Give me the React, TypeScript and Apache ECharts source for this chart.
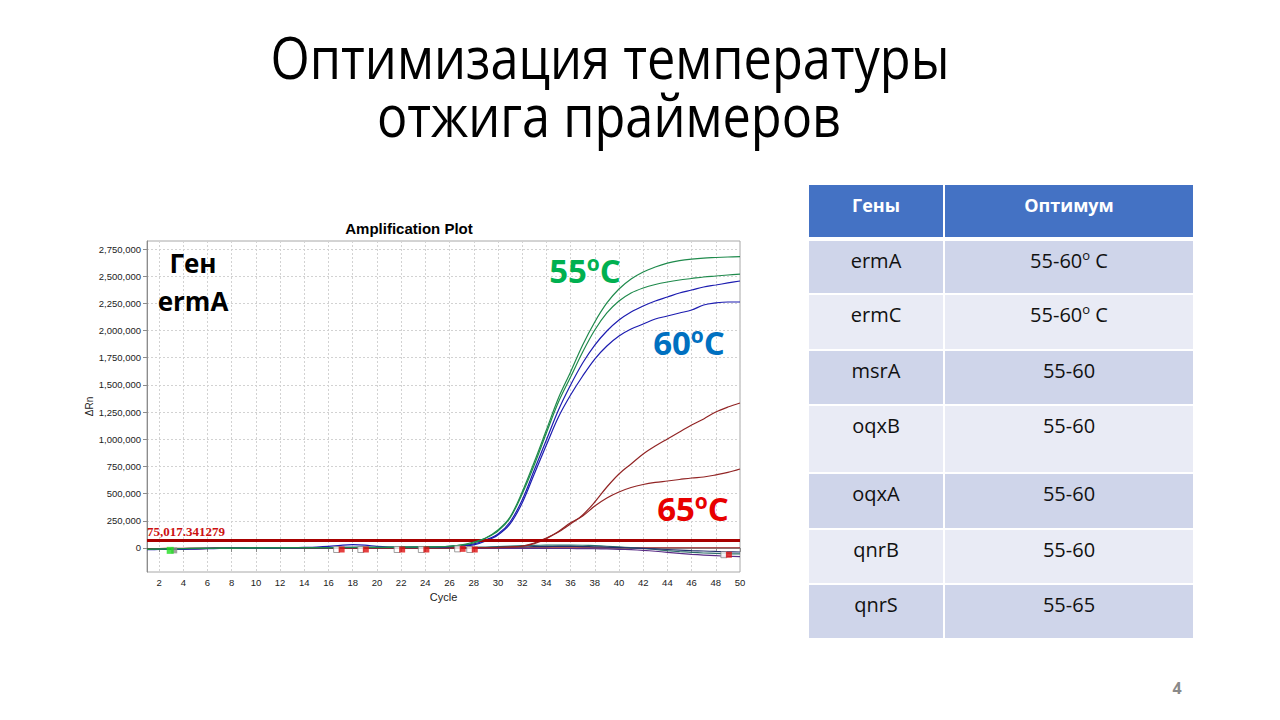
import React, { useEffect, useRef } from "react";
import * as echarts from "echarts";

// ---------- data ----------
const cycles = ["1","2","3","4","5","6","7","8","9","10","11","12","13","14","15","16","17","18","19","20","21","22","23","24","25","26","27","28","29","30","31","32","33","34","35","36","37","38","39","40","41","42","43","44","45","46","47","48","49","50"];

const yTicks = [0, 250000, 500000, 750000, 1000000, 1250000, 1500000, 1750000, 2000000, 2250000, 2500000, 2750000];

// 55 °C wells
const green1 = [-12000,-10000,-8000,-6000,-4000,-3000,-2000,-1000,0,1000,2000,2000,3000,3000,4000,4000,5000,5000,6000,6000,7000,8000,9000,10000,12000,16000,28000,
  55000,92000,166000,285000,515000,791000,1085000,1380000,1619000,1867000,2079000,2254000,2382000,2474000,2539000,2585000,2621000,2644000,2658000,2667000,2672000,2677000,2681000];
const green2 = [-10000,-9000,-7000,-5000,-4000,-3000,-2000,-1000,0,500,1000,1500,2000,2500,3000,3500,4000,4500,5000,5500,6000,7000,8000,9000,11000,15000,26000,
  46000,92000,156000,276000,497000,763000,1058000,1343000,1573000,1803000,2005000,2162000,2272000,2346000,2392000,2424000,2447000,2465000,2479000,2493000,2502000,2511000,2520000];
// 60 °C wells
const blue1 = [-14000,-12000,-10000,-8000,-6000,-4000,-3000,-2000,-1000,0,1000,2000,3000,5000,8000,14000,24000,30000,26000,15000,9000,7000,7000,8000,10000,14000,22000,
  37000,74000,129000,239000,442000,717000,993000,1269000,1499000,1702000,1867000,1996000,2097000,2171000,2226000,2272000,2309000,2346000,2373000,2401000,2419000,2438000,2456000];
const blue2 = [-16000,-14000,-12000,-10000,-8000,-6000,-5000,-4000,-3000,-2000,-1000,0,1000,2000,3000,4000,5000,6000,6000,6000,6000,6000,7000,8000,10000,13000,20000,
  28000,64000,120000,221000,414000,681000,947000,1205000,1407000,1582000,1738000,1858000,1950000,2014000,2060000,2106000,2134000,2162000,2189000,2235000,2254000,2263000,2263000];
// 65 °C wells
const red1 = [-5000,-5000,-4000,-4000,-3000,-3000,-2000,-2000,-1000,-1000,0,0,0,0,0,0,0,0,0,0,0,0,0,0,0,0,1000,2000,3000,5000,9000,
  18000,46000,92000,147000,221000,304000,423000,561000,681000,773000,865000,938000,1003000,1067000,1131000,1187000,1251000,1297000,1334000];
const red2 = [-8000,-7000,-6000,-5000,-4000,-3000,-3000,-2000,-2000,-1000,-1000,0,0,0,0,0,0,0,0,0,0,0,0,0,0,0,1000,1500,2500,4000,8000,
  16000,40000,86000,152000,232000,294000,386000,460000,515000,556000,584000,603000,616000,630000,644000,653000,672000,695000,727000];
// non-amplifying wells
const flat1 = [-14000,-12000,-10000,-8000,-6000,-5000,-4000,-3000,-2000,-1000,0,0,1000,1000,1000,2000,2000,2000,2000,2000,2000,2000,2000,2000,2000,2000,2000,3000,4000,6000,8000,10000,12000,13000,14000,14000,13000,11000,8000,4000,0,-4000,-9000,-14000,-19000,-24000,-28000,-32000,-35000,-37000];
const flat2 = [-10000,-9000,-8000,-7000,-6000,-5000,-4000,-4000,-3000,-3000,-3000,-3000,-3000,-3000,-3000,-3000,-3000,-3000,-3000,-3000,-3000,-3000,-3000,-3000,-3000,-3000,-4000,-4000,-4000,-5000,-5000,-5000,-5000,-5000,-5000,-5000,-6000,-7000,-9000,-12000,-16000,-22000,-30000,-40000,-50000,-58000,-65000,-71000,-76000,-80000];
const flat3 = [-12000,-10000,-8000,-6000,-5000,-4000,-3000,-2000,-1000,0,0,1000,1000,1000,2000,2000,2000,2000,2000,2000,2000,2000,2000,2000,2000,3000,4000,6000,9000,13000,17000,21000,24000,26000,27000,27000,25000,21000,16000,10000,3000,-5000,-14000,-24000,-33000,-40000,-46000,-50000,-53000,-55000];
const flat4 = [-10000,-9000,-8000,-7000,-6000,-5000,-4000,-3000,-2000,-1000,0,0,0,1000,1000,1000,1000,1000,1000,1000,2000,2000,2000,2000,2000,2000,2000,2000,2000,2000,2000,2000,2000,2000,2000,2000,2000,2000,2000,2000,2000,2000,2000,2000,2000,2000,2000,2000,2000,2000];

const threshold = 75017.341279;
const thresholdLabel = "75,017.341279";

const ctCycles = ["17", "19", "22", "24", "27", "28", "49"];
const ctValues = [-14000, -14000, -14000, -14000, -8000, -14000, -62000];
const baseStartCycles = ["3"];
const baseStartValues = [-22000];

// table
const tableHeaders = ["Гены", "Оптимум"];
const genes = ["ermA", "ermC", "msrA", "oqxB", "oqxA", "qnrB", "qnrS"];
const optimumRange = ["55-60", "55-60", "55-60", "55-60", "55-60", "55-60", "55-65"];
const optimumDegree = [true, true, false, false, false, false, false];

const tempLabels = ["55", "60", "65"];

// ---------- layout ----------
const rowTops = [241, 295, 351, 406, 474, 530, 585];
const rowBottoms = [293, 349, 404, 472, 528, 583, 638];

const fmt = (v: number) => String(v).replace(/\B(?=(\d{3})+(?!\d))/g, ",");
const evenIdx = (index: number) => index % 2 === 1;

const line = (name: string, data: number[], color: string, z = 2) => ({
  name,
  type: "line",
  data,
  showSymbol: false,
  smooth: 0.35,
  z,
  lineStyle: { color, width: 1.2 },
  itemStyle: { color },
});

const tempText = (deg: string, x: number, y: number, color: string) => ({
  type: "text",
  x,
  y,
  z: 100,
  style: {
    text: `{n|${deg}}{s|o}{n|C}`,
    align: "center",
    verticalAlign: "middle",
    fill: color,
    rich: {
      n: { fontSize: 33, fontWeight: "bold", fontFamily: "Open Sans", fill: color, lineHeight: 36 },
      s: { fontSize: 21, fontWeight: "bold", fontFamily: "Open Sans", fill: color, verticalAlign: "top", lineHeight: 22 },
    },
  },
});

function buildTable() {
  const els: any[] = [];
  const c1l = 809, c1r = 943, c2l = 945, c2r = 1193;
  els.push({ type: "rect", shape: { x: c1l, y: 185, width: c1r - c1l, height: 52 }, style: { fill: "#4472c4" } });
  els.push({ type: "rect", shape: { x: c2l, y: 185, width: c2r - c2l, height: 52 }, style: { fill: "#4472c4" } });
  els.push({ type: "text", x: (c1l + c1r) / 2, y: 205, style: { text: tableHeaders[0], align: "center", verticalAlign: "middle", fill: "#fff", font: "bold 18px 'Open Sans'" } });
  els.push({ type: "text", x: (c2l + c2r) / 2, y: 205, style: { text: tableHeaders[1], align: "center", verticalAlign: "middle", fill: "#fff", font: "bold 18px 'Open Sans'" } });
  genes.forEach((g, i) => {
    const top = rowTops[i];
    const h = rowBottoms[i] - top;
    const fill = i % 2 === 0 ? "#cfd5ea" : "#e9ebf5";
    els.push({ type: "rect", shape: { x: c1l, y: top, width: c1r - c1l, height: h }, style: { fill } });
    els.push({ type: "rect", shape: { x: c2l, y: top, width: c2r - c2l, height: h }, style: { fill } });
    els.push({ type: "text", x: (c1l + c1r) / 2, y: top + 19, style: { text: g, align: "center", verticalAlign: "middle", fill: "#111", font: "20px 'Open Sans'" } });
    els.push({
      type: "text",
      x: (c2l + c2r) / 2,
      y: top + 19,
      style: {
        text: optimumDegree[i] ? `{n|${optimumRange[i]}}{s|o}{n| C}` : `{n|${optimumRange[i]}}`,
        align: "center",
        verticalAlign: "middle",
        fill: "#111",
        rich: {
          n: { fontSize: 20, fontFamily: "Open Sans", fill: "#111", lineHeight: 24 },
          s: { fontSize: 13, fontFamily: "Open Sans", fill: "#111", verticalAlign: "top", lineHeight: 14 },
        },
      },
    });
  });
  return els;
}

export default function App() {
  const ref = useRef<HTMLDivElement>(null);
  useEffect(() => {
    if (!ref.current) return;
    const chart = echarts.init(ref.current, null, { renderer: "svg" });
    const axisFont = { fontFamily: "Liberation Sans", fontSize: 9.5, color: "#222" };
    const option: any = {
      animation: false,
      backgroundColor: "#ffffff",
      grid: { left: 147, top: 241, width: 593, height: 331, show: true, borderColor: "#a8a8a8", borderWidth: 1 },
      xAxis: {
        type: "category",
        data: cycles,
        boundaryGap: false,
        name: "Cycle",
        nameLocation: "middle",
        nameGap: 19,
        nameTextStyle: { fontFamily: "Liberation Sans", fontSize: 11, color: "#222" },
        axisLine: { lineStyle: { color: "#8c8c8c" } },
        axisTick: { interval: evenIdx, length: 4, lineStyle: { color: "#8c8c8c" } },
        axisLabel: { ...axisFont, interval: evenIdx, margin: 5 },
        splitLine: { show: true, interval: evenIdx, lineStyle: { color: "#d2d2d2", type: [2, 2] } },
      },
      yAxis: {
        type: "value",
        min: -221000,
        max: 2824000,
        name: "ΔRn",
        nameLocation: "middle",
        nameGap: 52,
        nameRotate: 90,
        nameTextStyle: { fontFamily: "Liberation Sans", fontSize: 10, color: "#222" },
        axisLine: { show: true, lineStyle: { color: "#8c8c8c" } },
        axisTick: { show: true, customValues: yTicks, length: 4, lineStyle: { color: "#8c8c8c" } },
        axisLabel: { ...axisFont, customValues: yTicks, formatter: (v: number) => fmt(v), margin: 6 },
        splitLine: { show: true, lineStyle: { color: "#d2d2d2", type: [2, 2] } },
      },
      series: [
        line("flat4", flat4, "#8e1b1b", 2),
        line("flat2", flat2, "#5a2d86", 2),
        line("flat3", flat3, "#2e6e6a", 2),
        line("flat1", flat1, "#24306e", 2),
        {
          ...line("red2", red2, "#922525", 3),
          markLine: {
            silent: true,
            symbol: ["none", "none"],
            lineStyle: { color: "#a80000", width: 3, type: "solid" },
            label: {
              show: true,
              position: "insideStartTop",
              formatter: thresholdLabel,
              color: "#cc1111",
              fontFamily: "Liberation Serif",
              fontWeight: "bold",
              fontSize: 13,
              distance: [0, 2],
            },
            data: [{ yAxis: threshold }],
          },
        },
        line("red1", red1, "#922525", 3),
        line("blue2", blue2, "#1c1cb0", 4),
        line("blue1", blue1, "#1c1cb0", 4),
        line("green2", green2, "#1f8a4c", 5),
        line("green1", green1, "#1f8a4c", 5),
        {
          type: "scatter",
          symbol: "rect",
          symbolSize: 6,
          symbolOffset: [-4, 0],
          z: 6,
          itemStyle: { color: "#ffffff", borderColor: "#888", borderWidth: 1 },
          data: ctCycles.map((c, i) => [c, ctValues[i]]),
        },
        {
          type: "scatter",
          symbol: "rect",
          symbolSize: 6,
          symbolOffset: [1, 0],
          z: 7,
          itemStyle: { color: "#e01010" },
          data: ctCycles.map((c, i) => [c, ctValues[i]]),
        },
        {
          type: "scatter",
          symbol: "rect",
          symbolSize: 6,
          symbolOffset: [3, 0],
          z: 6,
          itemStyle: { color: "#8a8a8a" },
          data: baseStartCycles.map((c, i) => [c, baseStartValues[i]]),
        },
        {
          type: "scatter",
          symbol: "rect",
          symbolSize: 7,
          symbolOffset: [-1, 0],
          z: 7,
          itemStyle: { color: "#22dd22" },
          data: baseStartCycles.map((c, i) => [c, baseStartValues[i]]),
        },
      ],
      graphic: [
        { type: "text", x: 610, y: 57, scaleX: 0.87, style: { text: "Оптимизация температуры", align: "center", verticalAlign: "middle", fill: "#000", font: "58px 'Open Sans'" } },
        { type: "text", x: 609, y: 115, scaleX: 0.87, style: { text: "отжига праймеров", align: "center", verticalAlign: "middle", fill: "#000", font: "58px 'Open Sans'" } },
        { type: "text", x: 409, y: 228, style: { text: "Amplification Plot", align: "center", verticalAlign: "middle", fill: "#000", font: "bold 15px 'Liberation Sans'" } },
        { type: "text", x: 193, y: 263, z: 100, style: { text: "Ген", align: "center", verticalAlign: "middle", fill: "#000", font: "bold 26px 'Open Sans'" } },
        { type: "text", x: 193, y: 301, z: 100, style: { text: "ermA", align: "center", verticalAlign: "middle", fill: "#000", font: "bold 26px 'Open Sans'" } },
        tempText(tempLabels[0], 585, 270, "#00b050"),
        tempText(tempLabels[1], 689, 342, "#0070c0"),
        tempText(tempLabels[2], 693, 508, "#e80000"),
        ...buildTable(),
        { type: "text", x: 1177, y: 688, style: { text: "4", align: "center", verticalAlign: "middle", fill: "#8a8a8a", font: "bold 16px 'Open Sans'" } },
      ],
    };
    chart.setOption(option);
    return () => chart.dispose();
  }, []);
  return <div ref={ref} style={{ position: "absolute", left: 0, top: 0, width: 1280, height: 720 }} />;
}
